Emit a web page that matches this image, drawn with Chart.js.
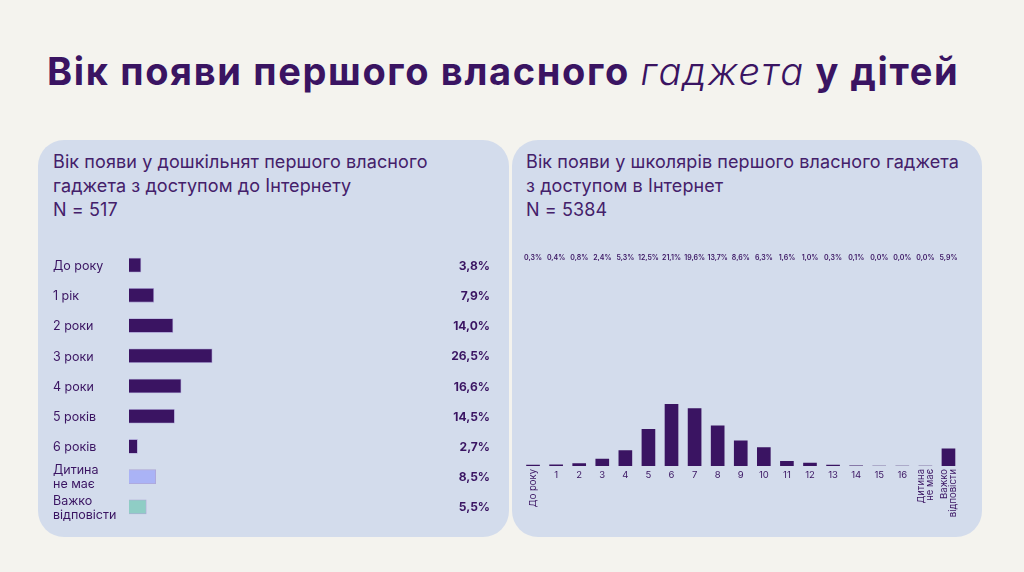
<!DOCTYPE html>
<html>
<head>
<meta charset="utf-8">
<script src="https://cdn.jsdelivr.net/npm/chart.js@4/dist/chart.umd.min.js"></script>
<style>
  html,body{margin:0;padding:0;}
  body{width:1024px;height:572px;background:#f4f3ee;position:relative;overflow:hidden;font-family:Inter, "Open Sans", sans-serif;color:#3a1462;}
  #title{position:absolute;left:47px;top:48px;font-size:38px;line-height:46px;font-weight:700;white-space:nowrap;letter-spacing:1.65px;color:#3a1462;}
  #title i{font-weight:300;}
  .panel{position:absolute;top:140px;height:397px;background:#d3dcec;border-radius:26px;}
  .hdr{position:absolute;font-size:18px;line-height:24px;color:#44206a;white-space:nowrap;letter-spacing:0.1px;}
  canvas{position:absolute;}
</style>
</head>
<body>
<div id="title">Вік появи першого власного <i>гаджета</i> у дітей</div>
<div class="panel" style="left:38px;width:471px;"></div>
<div class="panel" style="left:512px;width:470px;"></div>
<div class="hdr" style="left:53px;top:150px;">Вік появи у дошкільнят першого власного<br>гаджета з доступом до Інтернету<br>N = 517</div>
<div class="hdr" style="left:526px;top:150px;">Вік появи у школярів першого власного гаджета<br>з доступом в Інтернет<br>N = 5384</div>
<div style="position:absolute;left:53px;top:250px;width:437px;height:272px;"><canvas id="c1"></canvas></div>
<div style="position:absolute;left:512px;top:250px;width:448px;height:270px;"><canvas id="c2"></canvas></div>
<script>
// ---- Data: preschoolers ----
const preCats = ['До року', '1 рік', '2 роки', '3 роки', '4 роки', '5 років', '6 років', ['Дитина', 'не має'], ['Важко', 'відповісти']];
const preValues = [3.8, 7.9, 14.0, 26.5, 16.6, 14.5, 2.7, 8.5, 5.5];
const preColors = ['#3a1462', '#3a1462', '#3a1462', '#3a1462', '#3a1462', '#3a1462', '#3a1462', '#aab3f6', '#8fcdc5'];

// ---- Data: schoolchildren ----
const schCats = ['До року', '1', '2', '3', '4', '5', '6', '7', '8', '9', '10', '11', '12', '13', '14', '15', '16', ['Дитина', 'не має'], ['Важко', 'відповісти']];
const schValues = [0.3, 0.4, 0.8, 2.4, 5.3, 12.5, 21.1, 19.6, 13.7, 8.6, 6.3, 1.6, 1.0, 0.3, 0.1, 0.0, 0.0, 0.0, 5.9];

const TXT = '#3a1462';
const FONT = 'Inter, "Open Sans", sans-serif';
const fmt = v => v.toFixed(1).replace('.', ',') + '%';

Chart.defaults.animation = false;
Chart.defaults.font.family = FONT;

// Left chart: category labels and value labels
const prePlugin = {
  id: 'preLabels',
  afterDatasetsDraw(chart) {
    const {ctx, chartArea} = chart;
    const ys = chart.scales.y;
    ctx.save();
    ctx.fillStyle = TXT;
    ctx.textBaseline = 'middle';
    preValues.forEach((v, i) => {
      const y = ys.getPixelForValue(i);
      ctx.font = '700 12px ' + FONT;
      ctx.textAlign = 'right';
      ctx.fillText(fmt(v), chartArea.right, y + 1);
      ctx.font = '400 12.5px ' + FONT;
      ctx.textAlign = 'left';
      const lab = preCats[i];
      const lines = Array.isArray(lab) ? lab : [lab];
      const lh = 14;
      lines.forEach((ln, k) => {
        ctx.fillText(ln, 0, y + 1 + (k - (lines.length - 1) / 2) * lh);
      });
    });
    ctx.restore();
  }
};

new Chart(document.getElementById('c1'), {
  type: 'bar',
  data: {
    labels: preCats,
    datasets: [{
      data: preValues,
      backgroundColor: preColors,
      borderColor: 'rgba(150,130,200,0.6)',
      borderWidth: 0.8,
      barThickness: 14,
      categoryPercentage: 1,
      barPercentage: 0.46
    }]
  },
  options: {
    indexAxis: 'y',
    responsive: true,
    maintainAspectRatio: false,
    layout: {padding: {left: 76, right: 0, top: 0, bottom: 0}},
    plugins: {legend: {display: false}, tooltip: {enabled: false}},
    scales: {
      x: {display: false, min: 0, max: 115},
      y: {display: false}
    }
  },
  plugins: [prePlugin]
});

// Right chart: value labels on top and custom x labels
const schPlugin = {
  id: 'schLabels',
  afterDatasetsDraw(chart) {
    const {ctx, chartArea} = chart;
    const xs = chart.scales.x;
    ctx.save();
    ctx.fillStyle = TXT;
    ctx.font = '600 7px ' + FONT;
    ctx.textAlign = 'center';
    ctx.textBaseline = 'middle';
    schValues.forEach((v, i) => {
      ctx.fillText(fmt(v), xs.getPixelForValue(i), 8);
    });
    ctx.font = '400 9.5px ' + FONT;
    schCats.forEach((lab, i) => {
      const x = xs.getPixelForValue(i);
      const y0 = chartArea.bottom + 3;
      if (/^\d+$/.test(lab)) {
        ctx.textAlign = 'center';
        ctx.textBaseline = 'top';
        ctx.fillText(lab, x, y0 + 1);
      } else {
        const lines = Array.isArray(lab) ? lab : [lab];
        const lh = 9;
        ctx.save();
        ctx.translate(x, y0);
        ctx.rotate(-Math.PI / 2);
        ctx.textAlign = 'right';
        ctx.textBaseline = 'middle';
        lines.forEach((ln, k) => {
          ctx.fillText(ln, 0, (k - (lines.length - 1) / 2) * lh);
        });
        ctx.restore();
      }
    });
    ctx.restore();
  }
};

new Chart(document.getElementById('c2'), {
  type: 'bar',
  data: {
    labels: schCats,
    datasets: [{
      data: schValues,
      backgroundColor: '#3a1462',
      borderWidth: 0,
      barThickness: 13,
      categoryPercentage: 1,
      barPercentage: 0.56
    }]
  },
  options: {
    responsive: true,
    maintainAspectRatio: false,
    layout: {padding: {left: 9.5, right: 0, top: 20, bottom: 54}},
    plugins: {legend: {display: false}, tooltip: {enabled: false}},
    scales: {
      x: {display: false},
      y: {display: false, min: 0, max: 67}
    }
  },
  plugins: [schPlugin]
});
</script>
</body>
</html>
